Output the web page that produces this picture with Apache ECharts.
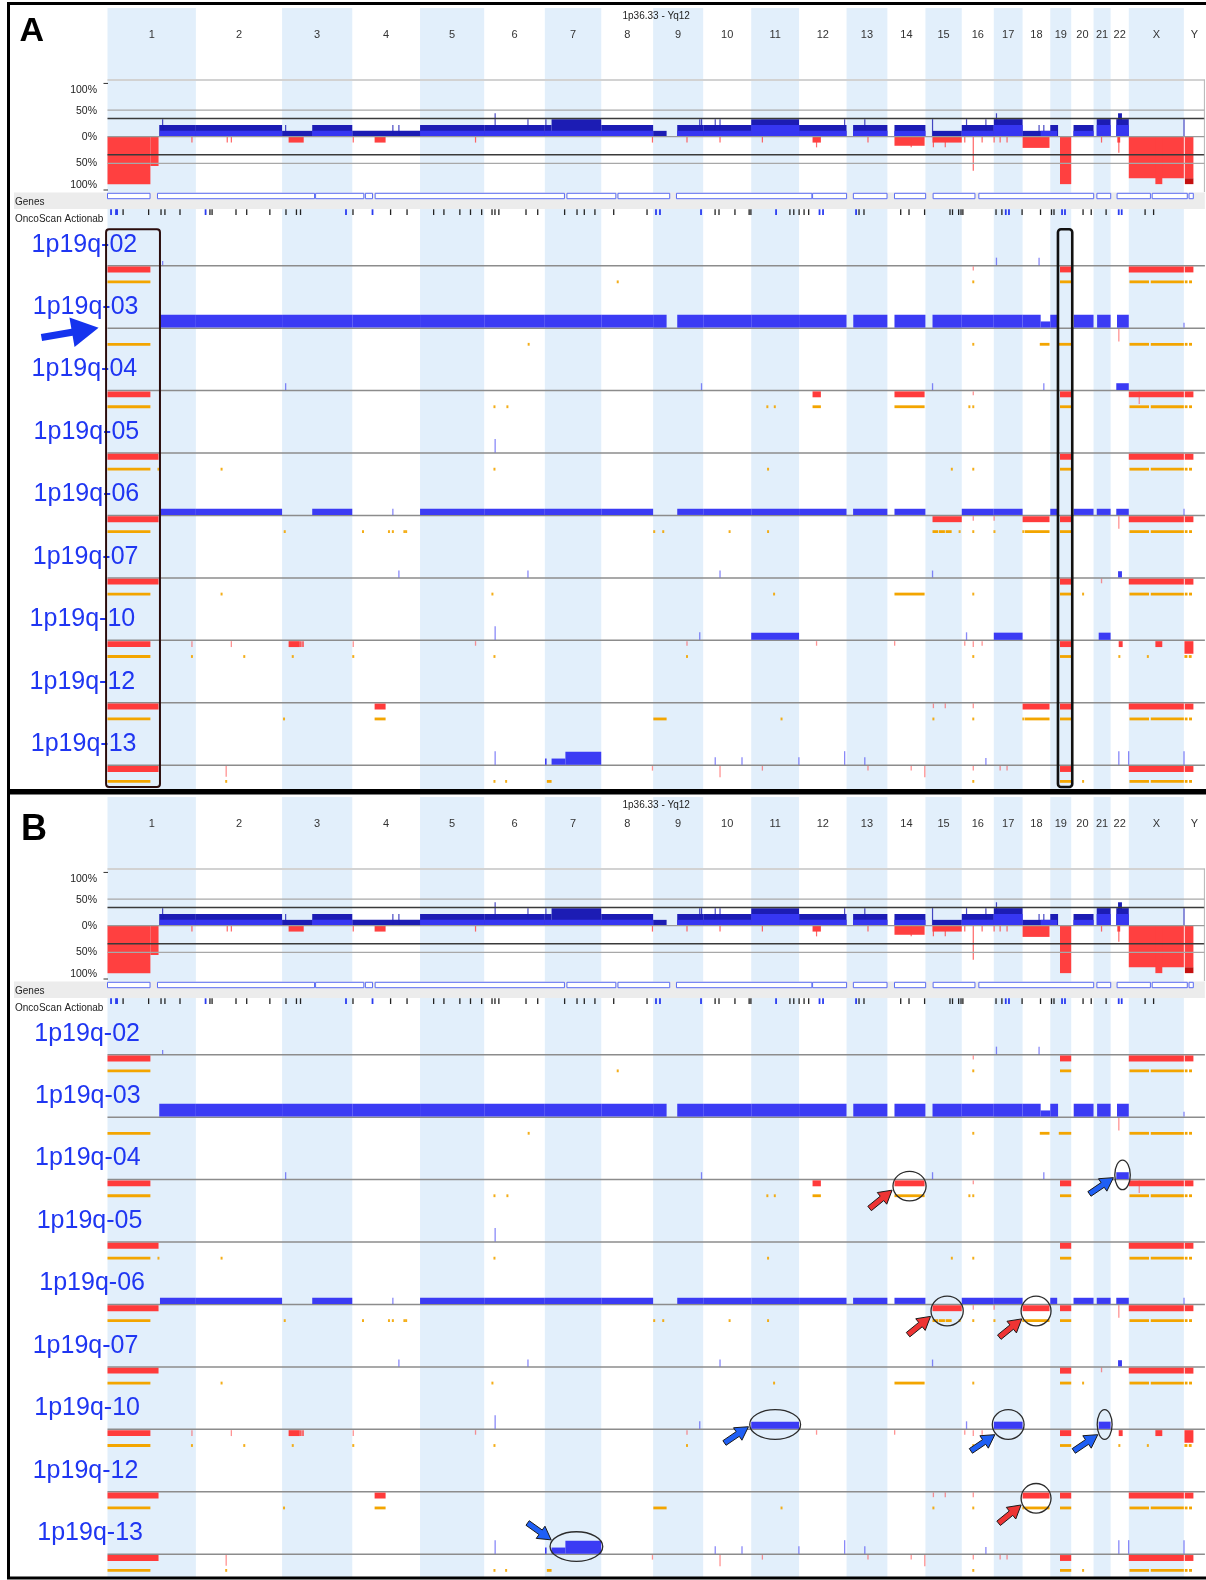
<!DOCTYPE html>
<html>
<head>
<meta charset="utf-8">
<title>OncoScan copy number – 1p19q samples</title>
<script src="https://cdn.jsdelivr.net/npm/echarts@6/dist/echarts.min.js"></script>
<style>
html,body{margin:0;padding:0;background:#ffffff;}
#chart{width:1206px;height:1580px;}
</style>
</head>
<body>
<div id="chart"></div>
<script>
// ====================== DATA ======================
const chromNames = ['1','2','3','4','5','6','7','8','9','10','11','12','13','14','15','16','17','18','19','20','21','22','X','Y'];
const chromLengths = [249.3,243.2,198.0,191.2,180.9,171.1,159.1,146.4,141.2,135.5,135.0,133.9,115.2,107.3,102.5,90.4,81.2,78.1,59.1,63.0,48.1,51.3,155.3,59.4];
const sampleNames = ['1p19q-02','1p19q-03','1p19q-04','1p19q-05','1p19q-06','1p19q-07','1p19q-10','1p19q-12','1p19q-13'];
const panelLetters = ['A','B'];
const regionTitle = '1p36.33 - Yq12';
const summaryTickLabels = ['100%','50%','0%','50%','100%'];
const summaryTickValues = [100,50,0,-50,-100];

// summary frequency (percent), [chrom, startMb, endMb, pct]
const gainTotalFreq = [
 ['1',146,249.3,22],['1',155,156,33],
 ['2',0,243.2,22],
 ['3',0,85,11],['3',85,198,22],['3',9.6,10.4,22],
 ['4',0,191.2,11],['4',114,115,22],['4',131,132,22],
 ['5',0,180.9,22],
 ['6',0,171.1,22],['6',30.5,31.3,44],['6',123,124,33],
 ['7',0,19,22],['7',19,159.1,33],['7',2,4,33],
 ['8',0,146.4,22],
 ['9',0,38,11],['9',68,141.2,22],['9',131,132,33],['9',136,137,33],
 ['10',0,135.5,22],['10',33.6,34.4,33],['10',47,48,33],
 ['11',0,135,33],
 ['12',0,133.9,22],['12',128,129,33],
 ['13',18.5,115.2,22],['13',51,52,33],
 ['14',20,107.3,22],
 ['15',20,102.5,11],['15',19.7,20.5,33],
 ['16',0,90.4,22],['16',13,14,33],['16',67.7,68.5,33],
 ['17',0,81.2,33],['17',7,8,44],
 ['18',0,78.1,11],['18',46,47,22],['18',59.5,60.3,22],
 ['19',0,22,22],
 ['20',6.5,63,22],
 ['21',9,48.1,33],
 ['22',16,51.3,33],['22',21,32,44],
 ['Y',0,1,33]
];
const gainLowFreq = [
 ['1',148,249.3,11],['2',0,243.2,11],['3',85,198,11],['5',0,180.9,11],['6',0,171.1,11],
 ['7',0,159.1,11],['8',0,146.4,11],['9',68,141.2,11],['10',0,135.5,11],['11',0,135,22],
 ['12',0,133.9,11],['13',18.5,115.2,11],['14',20,107.3,11],['16',0,90.4,11],['17',0,81.2,22],
 ['18',51,78.1,11],['19',0,19.5,11],['20',6.5,63,11],['21',9,48.1,22],['22',16,51.3,22]
];
const lossFreq = [
 ['1',0,121,89],['1',121,144,55],['1',237.7,238.7,11],
 ['2',88,89,11],['2',99.6,100.6,11],
 ['3',18.4,61,11],
 ['4',2.3,3.3,11],['4',63,94,11],
 ['5',156,157,11],
 ['8',144,145,11],
 ['9',95,96,11],
 ['10',47,48,11],
 ['11',31,32,11],
 ['12',38,61.5,11],['12',48.8,49.8,20],
 ['13',60,61,11],
 ['14',20,105,17],['14',66.8,67.6,20],
 ['15',20,102.5,11],['15',55.5,56.5,20],['15',22,23,20],
 ['16',8,9,11],['16',32,33,64],['16',57,58,11],
 ['17',0.5,1.3,11],['17',17.5,18.3,11],['17',37,37.8,11],
 ['18',0,76,21],
 ['19',27.4,59.1,89],
 ['21',22,23,11],
 ['22',19,27,11],['22',22.8,23.6,30],
 ['X',0,155.3,78],['X',75,94.5,89],
 ['Y',2.5,27,78]
];
const deepLossFreq = [['Y',3,27,78,89]];   // [chrom, start, end, fromPct, toPct]

// genome-wide positions (Mb) of gene blocks and actionable genes
const geneBlocks = [[0,120],[141,584],[587,723],[727.5,747.6],[755,1289],[1296,1434],[1440,1586],[1605,1987],[1989,2085],[2104,2199],[2220,2308],[2329,2447],[2458,2782],[2791,2830],[2848,2942],[2947,3046],[3051,3063]];
const actionableBlack = [44,116,151,162,204.5,289,295,362.5,392.7,458,503.5,533,544.5,692.5,798.6,845,920,949,994,1024,1055.5,1084.7,1093,1104,1180.6,1213.6,1289.5,1324.5,1345,1375,1428,1522,1714,1725,1770,1810,1815,1925,1936,1951,1965,1978,2120,2134,2237.6,2261,2305,2376.6,2383.7,2401,2407.7,2413,2506.5,2523,2580,2632,2663,2670,2752,2775,2817,2927,2951];
const actionableBlue = [10,24,27,276.7,672.8,747.6,1547.3,1558.5,1674.3,1886,2008.6,2018.5,2111.7,2534,2543,2692.7,2701,2852.6,2861];

// per-sample segments: gains/losses [chrom, startMb, endMb, copyChange], LOH [chrom, startMb, endMb]
const gains02 = [['1',155,156,0.7],['17',7,8,1.2],['18',46,47,1.2]];
const losses02 = [['1',0,121,1],['16',32,33,0.7],['19',27.4,59.1,1],['X',0,155.3,1],['Y',2.5,27,1]];
const loh02 = [['1',0,121],['8',46,47],['16',32,33],['19',27.4,59.1],['X',2,57],['X',62,155.3],['Y',2.8,10.4],['Y',14.7,23]];

const gains03 = [['1',146,249.3,2],['2',0,243.2,2],['3',0,198,2],['4',0,191.2,2],['5',0,180.9,2],['6',0,171.1,2],['7',0,159.1,2],['8',0,146.4,2],['9',0,38,2],['9',68,141.2,2],['10',0,135.5,2],['11',0,135,2],['12',0,133.9,2],['13',19,115.2,2],['14',20,107.3,2],['15',20,102.5,2],['16',0,90.4,2],['17',0,81.2,2],['18',0,51,2],['18',51,78.1,1],['19',0,22,2],['20',7,63,2],['21',10,48.1,2],['22',18,51.3,2],['Y',0,1,0.8]];
const losses03 = [['22',22.8,23.6,2]];
const loh03 = [['1',0,121],['6',125,126],['16',32,33],['18',48.5,76],['19',24,59.1],['X',2,57],['X',62,155.3],['Y',2.8,10.4],['Y',14.7,23]];

const gains04 = [['3',9.6,10.4,1.1],['9',136,137,1.1],['15',19.7,20.5,1.1],['18',59.5,60.3,1.1],['22',16,51.3,1.1]];
const losses04 = [['1',0,121,1],['12',38,61.5,1],['14',20,105,1],['16',32,33,0.7],['19',27.4,59.1,1],['X',0,155.3,1],['X',29,30,2],['Y',2.5,27,1]];
const loh04 = [['1',0,121],['6',28.5,29.5],['6',65,66],['11',45,46],['11',66,67],['12',38,61.5],['14',20,105],['16',21,22],['16',32,33],['19',27.4,59.1],['X',2,57],['X',62,155.3],['Y',2.8,10.4],['Y',14.7,23]];

const gains05 = [['6',30.5,31.3,2.1]];
const losses05 = [['1',0,144,1],['19',27.4,59.1,1],['X',0,155.3,1],['Y',2.5,27,1]];
const loh05 = [['1',0,121],['1',143,144.5],['2',72,73],['6',28.5,29.5],['11',47,48],['15',74,75],['16',32,33],['19',27.4,59.1],['X',2,57],['X',62,155.3],['Y',2.8,10.4],['Y',14.7,23]];

const gains06 = [['1',148,249.3,1],['2',0,243.2,1],['3',85,198,1],['4',114,115,1],['5',0,180.9,1],['6',0,171.1,1],['7',0,159.1,1],['8',0,146.4,1],['9',68,141.2,1],['10',0,135.5,1],['11',0,135,1],['12',0,133.9,1],['13',18.5,115.2,1],['14',20,107.3,1],['16',0,90.4,1],['17',0,81.2,1],['19',0,19.5,1],['20',6.5,63,1],['21',9,48.1,1],['22',16,51.3,1],['Y',0,1,1]];
const losses06 = [['1',0,144,1],['15',20,102.5,1],['16',32,33,0.8],['17',0.5,1.3,0.8],['18',0,76,1],['19',27.4,59.1,1],['22',22.8,23.6,2],['X',0,155.3,1],['Y',2.5,27,1]];
const loh06 = [['1',0,121],['3',7,8],['4',29,31.5],['4',103,104],['4',114,115],['4',146,148],['4',151,153],['9',2.6,3.4],['9',28,29],['10',74,75],['11',47,48],['15',20,36],['15',38,55],['15',57,74],['15',96,97],['16',32,33],['17',1.4,2.2],['18',0,4],['18',6,76],['19',27.4,59.1],['X',2,57],['X',62,155.3],['Y',2.8,10.4],['Y',14.7,23]];

const gains07 = [['4',131,132,1.1],['6',123,124,1.1],['10',47,48,1.1],['15',19.7,20.5,1.1],['22',21,32,1]];
const losses07 = [['1',0,144,1],['19',27.4,59.1,1],['21',22,23,0.8],['X',0,155.3,1],['Y',2.5,27,1]];
const loh07 = [['1',0,121],['2',72,73],['6',22,24.5],['11',64,65],['14',20,105],['16',32,33],['19',27.4,59.1],['20',33,34],['X',2,57],['X',62,155.3],['Y',2.8,10.4],['Y',14.7,23]];

const gains10 = [['6',30.5,31.3,2.1],['9',131,132,1.2],['11',0,135,1.15],['16',13,14,1.2],['17',0,81.2,1.15],['21',14.5,48.1,1.15]];
const losses10 = [['1',0,121,1],['1',237.7,238.7,1],['2',99.6,100.6,1],['3',18.4,50,1],['3',51,55,1],['3',57,61,1],['4',2.3,3.3,1],['5',156,157,0.8],['9',95,96,0.8],['12',48.8,49.8,0.8],['14',20,21,0.8],['16',8,9,0.8],['16',32,33,1],['16',57,58,0.8],['19',27.4,59.1,1],['22',22.8,34,1],['X',75,94.5,1],['Y',1.7,27,2]];
const loh10 = [['1',0,121],['1',237.7,238.7],['2',136,137],['3',29.6,30.6],['4',2.3,3.3],['6',28.5,29.5],['9',95,96],['16',32,33],['19',27.4,59.1],['22',22.8,26.5],['X',53,54.5],['Y',1.7,10],['Y',14,22]];

const gains12 = [];
const losses12 = [['1',0,144,1],['4',63,94,1],['15',22,23,0.8],['15',55.5,56.5,0.8],['16',32,33,0.8],['18',0,76,1],['19',27.4,59.1,1],['X',0,155.3,1],['Y',2.5,27,1]];
const loh12 = [['1',0,121],['3',5,6],['4',63,94],['9',0.6,38],['11',85,86],['15',22,23],['16',32,33],['18',0,4],['18',6,76],['19',27.4,59.1],['X',2,57],['X',62,155.3],['Y',2.8,10.4],['Y',14.7,23]];

const gains13 = [['6',30.5,31.3,2.1],['7',0.5,5,1],['7',19,58,1],['7',58,159.1,2],['10',33.6,34.4,1.2],['10',109,110,1.2],['11',134,135,1.2],['12',128,129,2.1],['13',51,52,1.2],['16',67.7,68.5,1.1],['22',22.8,23.6,2.1],['22',50.5,51.3,2.1],['Y',0,1,2.1]];
const losses13 = [['1',0,144,1],['2',85,86,1.7],['8',144,145,0.8],['10',47,48,1.8],['11',31,32,0.8],['13',60,61,0.8],['14',66.8,67.6,0.8],['14',105,106,1.8],['16',32,33,0.8],['17',17.5,18.3,0.8],['17',37,37.8,0.8],['19',27.4,59.1,1],['X',0,155.3,1],['Y',2.5,27,1]];
const loh13 = [['1',0,121],['2',85,86],['6',28.5,29.5],['6',61.4,62.4],['7',5.7,19],['16',32,33],['19',27.4,59.1],['20',33,34],['X',2,57],['X',62,155.3],['Y',2.8,10.4],['Y',14.7,23]];

// highlighted events (panel B): [sampleIndex, chrom, startMb, endMb, type]
const highlightEvents = [
 [2,'14',20,105,'loss'],[2,'22',16,51.3,'gain'],
 [4,'15',20,102.5,'loss'],[4,'18',0,76,'loss'],
 [6,'11',0,135,'gain'],[6,'17',0,81.2,'gain'],[6,'21',14.5,48.1,'gain'],
 [7,'18',0,76,'loss'],
 [8,'7',19,159.1,'gain']
];
// boxed regions (panel A): [chrom, startMb, endMb]
const boxedRegions = [['1',-4,148],['19',21.7,62]];

// ====================== BUILD ======================
const samples = [
 {gains:gains02, losses:losses02, loh:loh02},
 {gains:gains03, losses:losses03, loh:loh03},
 {gains:gains04, losses:losses04, loh:loh04},
 {gains:gains05, losses:losses05, loh:loh05},
 {gains:gains06, losses:losses06, loh:loh06},
 {gains:gains07, losses:losses07, loh:loh07},
 {gains:gains10, losses:losses10, loh:loh10},
 {gains:gains12, losses:losses12, loh:loh12},
 {gains:gains13, losses:losses13, loh:loh13}
];

const chromStart = {};
let acc = 0;
chromNames.forEach((c,i)=>{ chromStart[c]=acc; acc+=chromLengths[i]; });
const genomeLen = acc;
const G = (c,p) => chromStart[c] + p;

// layout
const PLOT_L = 107.5, PLOT_W = 1097.4;
const PANEL_DY = [0, 789];
const FRAME_TOP = 8, FRAME_H = 782;
const SUM_TOP = 79.7, SUM_H = 110.3, SUM_MIN = -100, SUM_MAX = 107;
const TRK_TOP = 232.2, TRK_H = 556.5, TRK_MIN = -78.06, TRK_MAX = 5, TRK_STEP = 9.32;
const baseOf = i => -i*TRK_STEP;

const COL = {shade:'#e2effb', gain:'#3b3bf4', loss:'#ff3b3b', loh:'#f3a500',
  sumNavy:'#1c1cb4', sumBright:'#3636f2', sumLoss:'#ff4040', sumDeep:'#c41010',
  label:'#1f36f2'};

function rectRender(color, minW, thinOpacity, stroke){
  return function(params, api){
    const p0 = api.coord([api.value(0), api.value(2)]);
    const p1 = api.coord([api.value(1), api.value(3)]);
    let x = Math.min(p0[0],p1[0]), w = Math.abs(p1[0]-p0[0]);
    const y = Math.min(p0[1],p1[1]), h = Math.abs(p1[1]-p0[1]);
    let op = 1;
    if (w < minW){ const c = x + w/2; w = minW; x = c - w/2; op = thinOpacity; }
    const style = {fill: color, opacity: op};
    if (stroke){ style.stroke = stroke; style.lineWidth = 1; }
    return {type:'rect', shape:{x:x, y:y, width:w, height:h}, style:style};
  };
}
function lineRender(styles){
  return function(params, api){
    const p0 = api.coord([api.value(0), api.value(2)]);
    const p1 = api.coord([api.value(1), api.value(3)]);
    const s = styles[api.value(4)] || styles[0];
    return {type:'line', shape:{x1:p0[0], y1:p0[1], x2:p1[0], y2:p1[1]}, style:{stroke:s[0], lineWidth:s[1]}};
  };
}
function chromLabelRender(params, api){
  const p = api.coord([api.value(0), api.value(2)]);
  return {type:'text', x:p[0], y:p[1], style:{text: chromNames[api.value(4)], fill:'#333',
    font:'11px "Liberation Sans", Arial, sans-serif', textAlign:'center', textVerticalAlign:'middle', align:'center', verticalAlign:'middle'}};
}
function cs(axisIdx, data, renderItem, z){
  return {type:'custom', coordinateSystem:'cartesian2d', xAxisIndex:axisIdx, yAxisIndex:axisIdx,
    data:data, renderItem:renderItem, encode:{x:[0,1], y:[2,3]}, z:z, silent:true, animation:false, clip:false};
}

const grids=[], xAxes=[], yAxes=[], series=[];
PANEL_DY.forEach((dy,p)=>{
  const gF = p*3, gS = p*3+1, gT = p*3+2;
  grids.push({left:PLOT_L, width:PLOT_W, top:FRAME_TOP+dy, height:FRAME_H});
  grids.push({left:PLOT_L, width:PLOT_W, top:SUM_TOP+dy, height:SUM_H});
  grids.push({left:PLOT_L, width:PLOT_W, top:TRK_TOP+dy, height:TRK_H});
  [gF,gS,gT].forEach(g=>xAxes.push({gridIndex:g, type:'value', min:0, max:genomeLen, show:false}));
  yAxes.push({gridIndex:gF, type:'value', min:0, max:FRAME_H, inverse:true, show:false});
  yAxes.push({gridIndex:gS, type:'value', min:SUM_MIN, max:SUM_MAX, show:false});
  yAxes.push({gridIndex:gT, type:'value', min:TRK_MIN, max:TRK_MAX, show:false});

  // --- frame: chromosome shading, labels, genes, actionable
  const shade = [];
  chromNames.forEach((c,i)=>{ if (i%2===0) shade.push([chromStart[c], chromStart[c]+chromLengths[i], 0, FRAME_H]); });
  series.push(cs(gF, shade, rectRender(COL.shade, 0, 1), 1));
  series.push(cs(gF, chromNames.map((c,i)=>{ const m = chromStart[c]+chromLengths[i]/2; return [m,m,27,27,i]; }), chromLabelRender, 3));
  series.push(cs(gF, geneBlocks.map(b=>[b[0],b[1],185.3,190.7]), rectRender('#ffffff', 1, 1, '#5b6cf2'), 3));
  series.push(cs(gF, actionableBlack.map(v=>[v,v,201.3,207]), rectRender('#222222', 1.3, 1), 3));
  series.push(cs(gF, actionableBlue.map(v=>[v,v,201.3,207]), rectRender('#2a3cf0', 1.8, 1), 3));

  // --- summary
  series.push(cs(gS, gainTotalFreq.map(d=>[G(d[0],d[1]), G(d[0],d[2]), 0, d[3]]), rectRender(COL.sumNavy, 1.2, 0.8), 3));
  series.push(cs(gS, gainLowFreq.map(d=>[G(d[0],d[1]), G(d[0],d[2]), 0, d[3]]), rectRender(COL.sumBright, 1.2, 0.8), 3.1));
  series.push(cs(gS, lossFreq.map(d=>[G(d[0],d[1]), G(d[0],d[2]), 0, -d[3]]), rectRender(COL.sumLoss, 1.2, 0.8), 3));
  series.push(cs(gS, deepLossFreq.map(d=>[G(d[0],d[1]), G(d[0],d[2]), -d[3], -d[4]]), rectRender(COL.sumDeep, 1.2, 0.8), 3.1));
  const sumLineStyles = [['#d2d2d2',2],['#a8a8a8',1.2],['#3a3a3a',1.5],['#9a9a9a',1.2]];
  const sumLines = [[SUM_MAX-0.5,0],[50,1],[34,2],[0,3],[-34,2],[-50,1]];
  series.push(cs(gS, sumLines.map(l=>[0, genomeLen, l[0], l[0], l[1]]), lineRender(sumLineStyles), 4));

  // --- sample tracks
  series.push(cs(gT, samples.map((s,i)=>[0, genomeLen, baseOf(i), baseOf(i), 0]), lineRender([['#8c8c8c',1.5]]), 2.5));
  const gData=[], lData=[], hData=[];
  samples.forEach((s,i)=>{
    const b = baseOf(i);
    s.gains.forEach(d=>gData.push([G(d[0],d[1]), G(d[0],d[2]), b+0.08, b+d[3]]));
    s.losses.forEach(d=>lData.push([G(d[0],d[1]), G(d[0],d[2]), b-0.12, b-d[3]]));
    s.loh.forEach(d=>hData.push([G(d[0],d[1]), G(d[0],d[2]), b-2.2, b-2.62]));
  });
  series.push(cs(gT, gData, rectRender(COL.gain, 1.3, 0.6), 5));
  series.push(cs(gT, lData, rectRender(COL.loss, 1.3, 0.55), 5));
  series.push(cs(gT, hData, rectRender(COL.loh, 2, 0.9), 5));
});

const chart = echarts.init(document.getElementById('chart'), null, {renderer:'canvas', width:1206, height:1580});
chart.setOption({animation:false, backgroundColor:'#ffffff', grid:grids, xAxis:xAxes, yAxis:yAxes, series:series});

// ====================== DECORATION ======================
const px = (g, x, y) => chart.convertToPixel({gridIndex:g}, [x, y]);
const gfx = [];
const FONT = '"Liberation Sans", Arial, sans-serif';
function txt(x, y, text, font, fill, align, z, extra){
  const st = Object.assign({text:text, font:font, fill:fill, textAlign:align, textVerticalAlign:'middle', align:align, verticalAlign:'middle'}, extra||{});
  gfx.push({type:'text', x:x, y:y, z:z||20, silent:true, style:st});
}
function arrowPoints(tip, dir, L, headL, headW, shaftW){
  const n = [-dir[1], dir[0]];
  const hb = [tip[0]-dir[0]*headL, tip[1]-dir[1]*headL];
  const tail = [tip[0]-dir[0]*L, tip[1]-dir[1]*L];
  return [tip,
    [hb[0]+n[0]*headW, hb[1]+n[1]*headW],
    [hb[0]+n[0]*shaftW, hb[1]+n[1]*shaftW],
    [tail[0]+n[0]*shaftW, tail[1]+n[1]*shaftW],
    [tail[0]-n[0]*shaftW, tail[1]-n[1]*shaftW],
    [hb[0]-n[0]*shaftW, hb[1]-n[1]*shaftW],
    [hb[0]-n[0]*headW, hb[1]-n[1]*headW]];
}

PANEL_DY.forEach((dy,p)=>{
  const gF = p*3, gS = p*3+1, gT = p*3+2;
  const xL = px(gS, 0, 0)[0], xR = px(gS, genomeLen, 0)[0];
  // border
  gfx.push({type:'rect', z:60, silent:true, shape:{x:8.5, y:3.5+dy+(p?0.5:0), width:1199, height:p?785:787}, style:{fill:null, stroke:'#000', lineWidth:3}});
  // panel letter
  txt(p?21:19.5, p?830:32, panelLetters[p], 'bold '+(p?36:34)+'px '+FONT, '#000', 'left', 30);
  // title
  txt((xL+xR)/2, 16+dy, regionTitle, '10px '+FONT, '#222', 'center', 20);
  // summary labels
  const dys = [6.6, 1, 0, 0, -5];
  summaryTickValues.forEach((v,k)=>{
    const y = px(gS, 0, v)[1];
    txt(97, y+dys[k], summaryTickLabels[k], '10.5px '+FONT, '#222', 'right', 20);
  });
  [100,-100].forEach(v=>{ const y = px(gS,0,v)[1]; gfx.push({type:'line', z:20, silent:true, shape:{x1:103.5,y1:y,x2:108,y2:y}, style:{stroke:'#333', lineWidth:1}}); });
  const sTop = px(gS,0,SUM_MAX)[1], sBot = px(gS,0,SUM_MIN)[1];
  gfx.push({type:'line', z:4, silent:true, shape:{x1:xR-0.5,y1:sTop,x2:xR-0.5,y2:sBot+2}, style:{stroke:'#b5b5b5', lineWidth:1}});
  // genes band + labels
  const bandTop = px(gF,0,184.6)[1], bandBot = px(gF,0,201)[1];
  gfx.push({type:'rect', z:1.5, silent:true, shape:{x:14, y:bandTop, width:xR-14, height:bandBot-bandTop}, style:{fill:'#ececec'}});
  txt(15, px(gF,0,194.6)[1], 'Genes', '10px '+FONT, '#222', 'left', 20);
  txt(15, px(gF,0,210.8)[1], 'OncoScan Actionable', '10px '+FONT, '#222', 'left', 20, {width:92, overflow:'truncate', ellipsis:''});
  // sample labels
  const labelX = p ? [34.3,35,35,36.7,39.3,32.7,34.3,32.7,37.3] : [31.6,32.8,31.6,33.6,33.6,32.8,29.6,29.6,30.8];
  sampleNames.forEach((nm,i)=>{
    const y = px(gT, 0, baseOf(i))[1];
    txt(labelX[i], y-21, nm, '25px '+FONT, COL.label, 'left', 25);
  });

  if (p === 0){
    // boxes around chromosome 1p and 19q
    const yTop = px(gT,0,TRK_MAX+0.43)[1], yBot = 787;
    boxedRegions.forEach((r,k)=>{
      const x0 = px(gT, G(r[0],r[1]), 0)[0], x1 = px(gT, G(r[0],r[2]), 0)[0];
      gfx.push({type:'rect', z:40, silent:true, shape:{x:x0, y:yTop, width:x1-x0, height:yBot-yTop, r:3},
        style:{fill:null, stroke:k?'#111':'#2a0c0c', lineWidth:k?2.6:2}});
    });
    // big arrow pointing at sample 03
    const bx = px(gT, G(boxedRegions[0][0], boxedRegions[0][1]), 0)[0];
    const by = px(gT, 0, baseOf(1))[1];
    const d = [0.985, -0.17];
    gfx.push({type:'polygon', z:45, silent:true, shape:{points:arrowPoints([bx-7.5, by-0.5], d, 58, 27, 15, 3.6)}, style:{fill:'#1533ee'}});
  } else {
    const angles = [165,170,160,150,172,140,140,155,205];
    highlightEvents.forEach((ev,k)=>{
      const [si, c, s, e, type] = ev;
      const x0 = px(gT, G(c,s), 0)[0], x1 = px(gT, G(c,e), 0)[0];
      const yb = px(gT, 0, baseOf(si))[1];
      const samp = samples[si];
      let lvl = 1;
      (type==='gain'?samp.gains:samp.losses).forEach(d=>{ if (d[0]===c && d[2]>s && d[1]<e) lvl = Math.max(lvl, d[3]); });
      const cx = (x0+x1)/2, rx = Math.max(5.6, (x1-x0)/2+1.5), ry = 14.8;
      const cy = type==='loss' ? yb+6.5 : yb-(lvl*3.35+1);
      gfx.push({type:'ellipse', z:50, silent:true, shape:{cx:cx, cy:cy, rx:rx, ry:ry}, style:{fill:null, stroke:'#2b2b2b', lineWidth:1.3}});
      const a = angles[k]*Math.PI/180;
      const tip = [cx+(rx+1.5)*Math.cos(a), cy+(ry+1)*Math.sin(a)];
      const down = Math.sin(a) < 0;
      const dir = type==='loss' ? [0.776,-0.631] : (down ? [0.813,0.582] : [0.828,-0.561]);
      gfx.push({type:'polygon', z:52, silent:true, shape:{points:arrowPoints(tip, dir, 29, 13, 7.5, 2.8)},
        style:{fill: type==='loss' ? '#ee3434' : '#1f5ff5', stroke:'#1a1a1a', lineWidth:1}});
    });
  }
});

chart.setOption({graphic:{elements:gfx}});
</script>
</body>
</html>
